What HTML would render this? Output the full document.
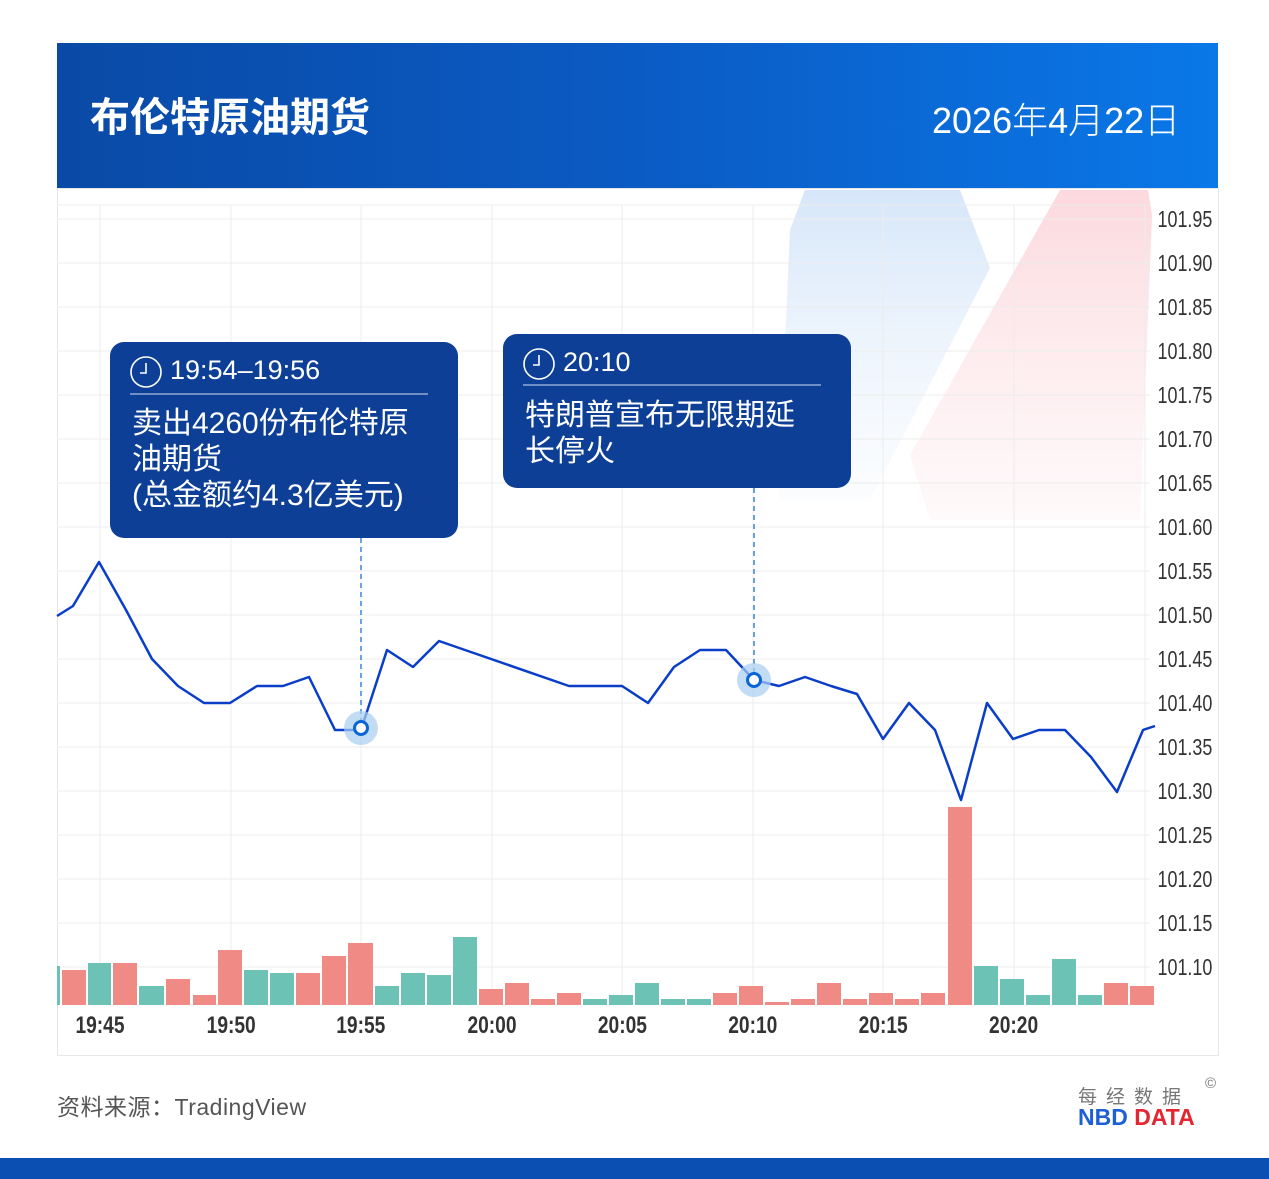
<!DOCTYPE html>
<html><head><meta charset="utf-8"><style>
body{margin:0;width:1269px;height:1179px;background:#fff;overflow:hidden;position:relative;font-family:"Liberation Sans","Noto Sans CJK SC",sans-serif}
.hdr{position:absolute;left:57px;top:43px;width:1161px;height:145px;background:linear-gradient(90deg,#0a4aa6 0%,#0b5bc4 50%,#0a78e8 100%)}
.t{position:absolute;color:#fff}
.box{position:absolute;background:#0c3f95;border-radius:14px;color:#fff}
</style></head><body>
<div class="hdr"></div>
<div class="t" style="left:90px;top:93px;font-size:40px;font-weight:bold;line-height:50px">布伦特原油期货</div>
<div class="t" style="left:932px;top:98px;font-size:36px;line-height:46px;font-weight:300">2026年4月22日</div>
<svg width="1269" height="1179" style="position:absolute;left:0;top:0">
<defs>
<linearGradient id="gb" x1="0" y1="0" x2="0" y2="1"><stop offset="0" stop-color="#cfe2f8"/><stop offset="1" stop-color="#e9f2fc" stop-opacity="0.2"/></linearGradient>
<linearGradient id="gp" x1="0" y1="0" x2="0" y2="1"><stop offset="0" stop-color="#fbd2d8"/><stop offset="1" stop-color="#fde8eb" stop-opacity="0.3"/></linearGradient>
</defs>
<rect x="57.5" y="188.5" width="1161" height="867" fill="none" stroke="#e6e6e6"/>
<path d="M805,190 L960,190 L990,268 L870,500 L778,500 L790,230 Z" fill="url(#gb)" opacity="0.85"/>
<path d="M1060,190 L1148,190 L1152,215 L1140,520 L930,520 L910,455 Z" fill="url(#gp)" opacity="0.85"/>
<g stroke="#ececec" stroke-width="1">
<line x1="57" x2="1150" y1="205" y2="205"/>
<line x1="57" x2="1150" y1="219" y2="219"/><line x1="57" x2="1150" y1="263" y2="263"/><line x1="57" x2="1150" y1="307" y2="307"/><line x1="57" x2="1150" y1="351" y2="351"/><line x1="57" x2="1150" y1="395" y2="395"/><line x1="57" x2="1150" y1="439" y2="439"/><line x1="57" x2="1150" y1="483" y2="483"/><line x1="57" x2="1150" y1="527" y2="527"/><line x1="57" x2="1150" y1="571" y2="571"/><line x1="57" x2="1150" y1="615" y2="615"/><line x1="57" x2="1150" y1="659" y2="659"/><line x1="57" x2="1150" y1="703" y2="703"/><line x1="57" x2="1150" y1="747" y2="747"/><line x1="57" x2="1150" y1="791" y2="791"/><line x1="57" x2="1150" y1="835" y2="835"/><line x1="57" x2="1150" y1="879" y2="879"/><line x1="57" x2="1150" y1="923" y2="923"/><line x1="57" x2="1150" y1="967" y2="967"/>
<line x1="100" x2="100" y1="205" y2="1005"/><line x1="231" x2="231" y1="205" y2="1005"/><line x1="361" x2="361" y1="205" y2="1005"/><line x1="492" x2="492" y1="205" y2="1005"/><line x1="622" x2="622" y1="205" y2="1005"/><line x1="753" x2="753" y1="205" y2="1005"/><line x1="883" x2="883" y1="205" y2="1005"/><line x1="1014" x2="1014" y1="205" y2="1005"/><line x1="1145" x2="1145" y1="205" y2="1005"/>
</g>
<g>
<rect x="57" y="966" width="3" height="39" fill="#6cc2b5"/>
<rect x="62" y="970" width="24" height="35" fill="#f08a85"/>
<rect x="88" y="963" width="23" height="42" fill="#6cc2b5"/>
<rect x="113" y="963" width="24" height="42" fill="#f08a85"/>
<rect x="139" y="986" width="25" height="19" fill="#6cc2b5"/>
<rect x="166" y="979" width="24" height="26" fill="#f08a85"/>
<rect x="193" y="995" width="23" height="10" fill="#f08a85"/>
<rect x="218" y="950" width="24" height="55" fill="#f08a85"/>
<rect x="244" y="970" width="24" height="35" fill="#6cc2b5"/>
<rect x="270" y="973" width="24" height="32" fill="#6cc2b5"/>
<rect x="296" y="973" width="24" height="32" fill="#f08a85"/>
<rect x="322" y="956" width="24" height="49" fill="#f08a85"/>
<rect x="348" y="943" width="25" height="62" fill="#f08a85"/>
<rect x="375" y="986" width="24" height="19" fill="#6cc2b5"/>
<rect x="401" y="973" width="24" height="32" fill="#6cc2b5"/>
<rect x="427" y="975" width="24" height="30" fill="#6cc2b5"/>
<rect x="453" y="937" width="24" height="68" fill="#6cc2b5"/>
<rect x="479" y="989" width="24" height="16" fill="#f08a85"/>
<rect x="505" y="983" width="24" height="22" fill="#f08a85"/>
<rect x="531" y="999" width="24" height="6" fill="#f08a85"/>
<rect x="557" y="993" width="24" height="12" fill="#f08a85"/>
<rect x="583" y="999" width="24" height="6" fill="#6cc2b5"/>
<rect x="609" y="995" width="24" height="10" fill="#6cc2b5"/>
<rect x="635" y="983" width="24" height="22" fill="#6cc2b5"/>
<rect x="661" y="999" width="24" height="6" fill="#6cc2b5"/>
<rect x="687" y="999" width="24" height="6" fill="#6cc2b5"/>
<rect x="713" y="993" width="24" height="12" fill="#f08a85"/>
<rect x="739" y="986" width="24" height="19" fill="#f08a85"/>
<rect x="765" y="1002" width="24" height="3" fill="#f08a85"/>
<rect x="791" y="999" width="24" height="6" fill="#f08a85"/>
<rect x="817" y="983" width="24" height="22" fill="#f08a85"/>
<rect x="843" y="999" width="24" height="6" fill="#f08a85"/>
<rect x="869" y="993" width="24" height="12" fill="#f08a85"/>
<rect x="895" y="999" width="24" height="6" fill="#f08a85"/>
<rect x="921" y="993" width="24" height="12" fill="#f08a85"/>
<rect x="948" y="807" width="24" height="198" fill="#f08a85"/>
<rect x="974" y="966" width="24" height="39" fill="#6cc2b5"/>
<rect x="1000" y="979" width="24" height="26" fill="#6cc2b5"/>
<rect x="1026" y="995" width="24" height="10" fill="#6cc2b5"/>
<rect x="1052" y="959" width="24" height="46" fill="#6cc2b5"/>
<rect x="1078" y="995" width="24" height="10" fill="#6cc2b5"/>
<rect x="1104" y="983" width="24" height="22" fill="#f08a85"/>
<rect x="1130" y="986" width="24" height="19" fill="#f08a85"/>
</g>
<line x1="361" y1="538" x2="361" y2="728" stroke="#3a86d6" stroke-width="1.5" stroke-dasharray="5,4"/>
<line x1="754" y1="488" x2="754" y2="680" stroke="#3a86d6" stroke-width="1.5" stroke-dasharray="5,4"/>
<polyline fill="none" stroke="#0a3ec9" stroke-width="2.5" stroke-linejoin="round" points="57,616 73,606 99,562 126,610 152,659 178,686 204,703 230,703 257,686 283,686 309,677 335,730 361,730 387,650 413,667 439,641 465,650 569,686 622,686 648,703 674,667 700,650 726,650 754,680 779,686 805,677 831,686 857,694 883,739 909,703 935,730 961,800 987,703 1013,739 1039,730 1065,730 1091,757 1117,792 1143,730 1155,726"/>
<circle cx="361" cy="728" r="17" fill="#a9cdf2" opacity="0.7"/><circle cx="361" cy="728" r="6.5" fill="#fff" stroke="#0a66d6" stroke-width="3"/>
<circle cx="754" cy="680" r="17" fill="#a9cdf2" opacity="0.7"/><circle cx="754" cy="680" r="6.5" fill="#fff" stroke="#0a66d6" stroke-width="3"/>
<g font-family="Liberation Sans,sans-serif" font-size="23" fill="#333" transform="scale(0.78,1)">
<text x="1484" y="227">101.95</text><text x="1484" y="271">101.90</text><text x="1484" y="315">101.85</text><text x="1484" y="359">101.80</text><text x="1484" y="403">101.75</text><text x="1484" y="447">101.70</text><text x="1484" y="491">101.65</text><text x="1484" y="535">101.60</text><text x="1484" y="579">101.55</text><text x="1484" y="623">101.50</text><text x="1484" y="667">101.45</text><text x="1484" y="711">101.40</text><text x="1484" y="755">101.35</text><text x="1484" y="799">101.30</text><text x="1484" y="843">101.25</text><text x="1484" y="887">101.20</text><text x="1484" y="931">101.15</text><text x="1484" y="975">101.10</text>
</g>
<g font-family="Liberation Sans,sans-serif" font-size="24" font-weight="bold" fill="#333" text-anchor="middle" transform="scale(0.8,1)">
<text x="125" y="1033">19:45</text><text x="289" y="1033">19:50</text><text x="451" y="1033">19:55</text><text x="615" y="1033">20:00</text><text x="778" y="1033">20:05</text><text x="941" y="1033">20:10</text><text x="1104" y="1033">20:15</text><text x="1267" y="1033">20:20</text>
</g>
<rect x="0" y="1158" width="1269" height="21" fill="#0b4fb3"/>
</svg>
<div class="box" style="left:110px;top:342px;width:348px;height:196px">
<svg width="40" height="40" style="position:absolute;left:18px;top:12px"><circle cx="18" cy="18" r="15" fill="none" stroke="#fff" stroke-width="1.6"/><path d="M18 9 V19 H12" fill="none" stroke="#fff" stroke-width="1.6"/></svg>
<div style="position:absolute;left:60px;top:13px;font-size:27px">19:54–19:56</div>
<div style="position:absolute;left:20px;top:51px;width:298px;height:2px;background:#6f8fc6"></div>
<div style="position:absolute;left:22px;top:64px;font-size:30px;line-height:36px;letter-spacing:0px">卖出4260份布伦特原<br>油期货<br>(总金额约4.3亿美元)</div>
</div>
<div class="box" style="left:503px;top:334px;width:348px;height:154px">
<svg width="40" height="40" style="position:absolute;left:18px;top:12px"><circle cx="18" cy="18" r="15" fill="none" stroke="#fff" stroke-width="1.6"/><path d="M18 9 V19 H12" fill="none" stroke="#fff" stroke-width="1.6"/></svg>
<div style="position:absolute;left:60px;top:13px;font-size:27px">20:10</div>
<div style="position:absolute;left:20px;top:50px;width:298px;height:2px;background:#6f8fc6"></div>
<div style="position:absolute;left:22px;top:64px;font-size:30px;line-height:36px;letter-spacing:0px">特朗普宣布无限期延<br>长停火</div>
</div>
<div style="position:absolute;left:57px;top:1088px;font-size:23px;color:#555;letter-spacing:0.5px">资料来源：TradingView</div>
<div style="position:absolute;left:1078px;top:1082px;font-size:19px;color:#777;letter-spacing:9px">每经数据</div>
<div style="position:absolute;left:1205px;top:1075px;font-size:15px;color:#777">©</div>
<div style="position:absolute;left:1078px;top:1104px;font-size:23px;font-weight:bold;color:#1f5fd6">NBD <span style="color:#e3262f">DATA</span></div>
</body></html>
